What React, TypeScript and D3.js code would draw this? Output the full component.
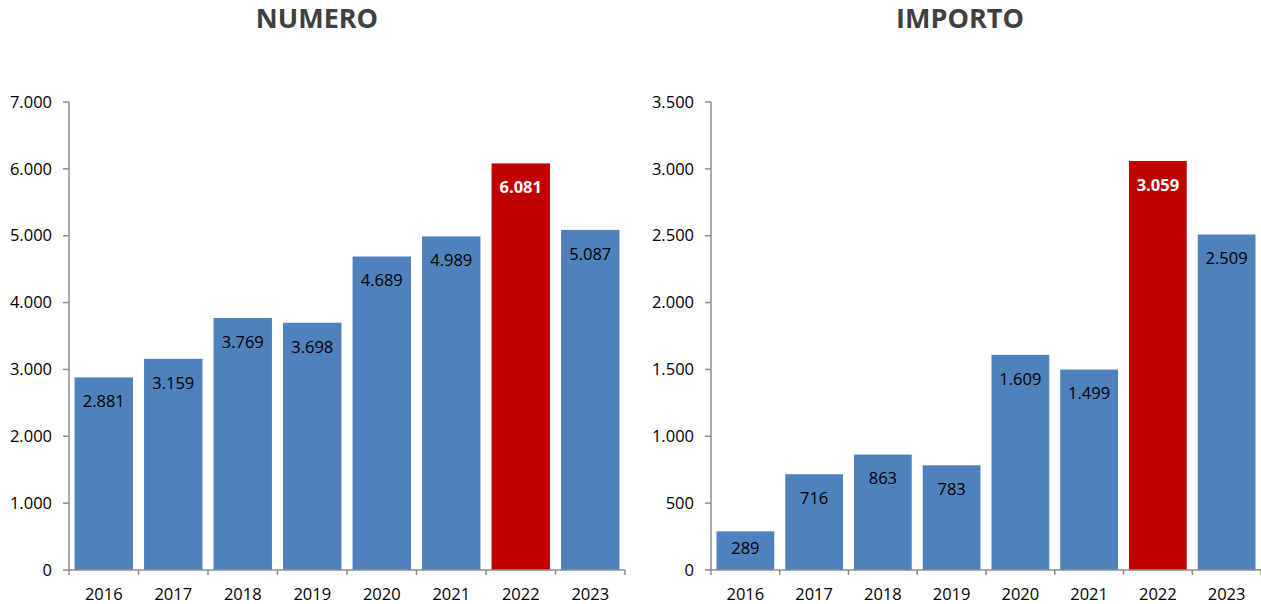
import React from "react";
import * as d3 from "d3";

const years = ["2016", "2017", "2018", "2019", "2020", "2021", "2022", "2023"];
const numeroValues = [2881, 3159, 3769, 3698, 4689, 4989, 6081, 5087];
const importoValues = [289, 716, 863, 783, 1609, 1499, 3059, 2509];
const numeroTicks = [0, 1000, 2000, 3000, 4000, 5000, 6000, 7000];
const importoTicks = [0, 500, 1000, 1500, 2000, 2500, 3000, 3500];
const highlightYear = "2022";

const FONT = "'Open Sans', 'Noto Sans', sans-serif";
const BLUE = "#4F81BD";
const RED = "#C00000";
const AXIS = "#8C8C8C";
const FS = 16.5;

const fmt = (v: number) => {
  const s = Math.round(v).toString();
  return s.replace(/\B(?=(\d{3})+(?!\d))/g, ".");
};

type PanelProps = {
  title: string;
  titleX: number;
  values: number[];
  ticks: number[];
  max: number;
  x0: number;
  x1: number;
};

function Panel({ title, titleX, values, ticks, max, x0, x1 }: PanelProps) {
  const top = 102;
  const bottom = 570;
  const y = d3.scaleLinear().domain([0, max]).range([bottom, top]);
  const x = d3.scaleBand<string>().domain(years).range([x0, x1]).paddingInner(0.16).paddingOuter(0.08);
  const boundaries = d3.range(years.length + 1).map((i) => x0 + i * ((x1 - x0) / years.length));
  return (
    <g>
      <text x={titleX} y={28} textAnchor="middle" fontFamily={FONT} fontWeight="bold" fontSize={27} fill="#404040">
        {title}
      </text>
      {values.map((v, i) => {
        const yr = years[i];
        const hi = yr === highlightYear;
        const yt = y(v);
        const ly = Math.min(yt + 24, bottom - 22);
        return (
          <g key={yr}>
            <rect x={x(yr)} y={yt} width={x.bandwidth()} height={bottom - yt} fill={hi ? RED : BLUE} />
            <text
              x={(x(yr) as number) + x.bandwidth() / 2}
              y={ly}
              dy="0.35em"
              textAnchor="middle"
              fontFamily={FONT}
              fontSize={FS}
              fontWeight={hi ? "bold" : "normal"}
              fill={hi ? "#ffffff" : "#000000"}
            >
              {fmt(v)}
            </text>
          </g>
        );
      })}
      <line x1={x0} x2={x0} y1={top} y2={bottom} stroke={AXIS} strokeWidth={1.5} />
      {ticks.map((t) => (
        <g key={t}>
          <line x1={x0 - 6} x2={x0} y1={y(t)} y2={y(t)} stroke={AXIS} strokeWidth={1.5} />
          <text x={x0 - 17} y={y(t)} dy="0.35em" textAnchor="end" fontFamily={FONT} fontSize={FS} fill="#000">
            {fmt(t)}
          </text>
        </g>
      ))}
      <line x1={x0} x2={x1} y1={bottom} y2={bottom} stroke={AXIS} strokeWidth={1.5} />
      {boundaries.map((b, i) => (
        <line key={i} x1={b} x2={b} y1={bottom} y2={bottom + 5} stroke={AXIS} strokeWidth={1.5} />
      ))}
      {years.map((yr) => (
        <text
          key={yr}
          x={(x(yr) as number) + x.bandwidth() / 2}
          y={594}
          dy="0.35em"
          textAnchor="middle"
          fontFamily={FONT}
          fontSize={FS}
          fill="#000"
        >
          {yr}
        </text>
      ))}
    </g>
  );
}

export default function App() {
  return (
    <svg
      width={1261}
      height={604}
      style={{ position: "absolute", left: 0, top: 0, background: "#fff" }}
    >
      <Panel title="NUMERO" titleX={317} values={numeroValues} ticks={numeroTicks} max={7000} x0={69} x1={625} />
      <Panel title="IMPORTO" titleX={960} values={importoValues} ticks={importoTicks} max={3500} x0={711} x1={1261} />
    </svg>
  );
}
